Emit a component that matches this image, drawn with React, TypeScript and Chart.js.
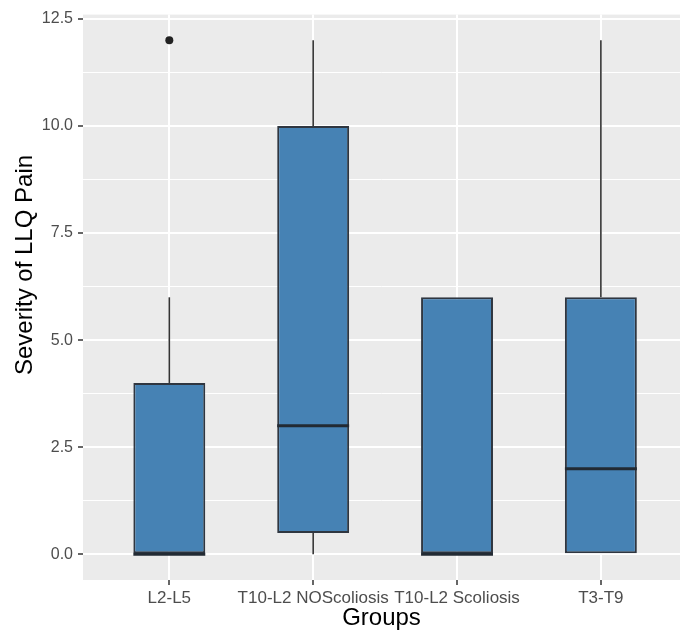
import React, { useEffect, useRef } from "react";
import { Chart, registerables } from "chart.js";

Chart.register(...registerables);

// ---- data ----
const categories = ["L2-L5", "T10-L2 NOScoliosis", "T10-L2 Scoliosis", "T3-T9"];
const whiskerLow = [0, 0, 0, 0];
const q1 = [0, 0.5, 0, 0];
const median = [0, 3, 0, 2];
const q3 = [4, 10, 6, 6];
const whiskerHigh = [6, 12, 6, 12];
const outlierGroup = ["L2-L5"];
const outlierValue = [12];
const yMajorTicks = [0, 2.5, 5, 7.5, 10, 12.5];
const yMinorTicks = [1.25, 3.75, 6.25, 8.75, 11.25];

const FONT = '"Liberation Sans", Arial, Helvetica, sans-serif';

const isMajor = (v: number) => yMajorTicks.some((m) => Math.abs(m - v) < 1e-9);

const boxPlugin = {
  id: "boxExtras",
  beforeDraw(chart: any) {
    const { ctx, chartArea } = chart;
    ctx.save();
    ctx.fillStyle = "#ffffff";
    ctx.fillRect(0, 0, chart.width, chart.height);
    ctx.fillStyle = "#EBEBEB";
    ctx.fillRect(chartArea.left, chartArea.top, chartArea.right - chartArea.left, chartArea.bottom - chartArea.top);
    ctx.restore();
  },
  beforeDatasetsDraw(chart: any) {
    const { ctx } = chart;
    const xs = chart.scales.x;
    const ys = chart.scales.y;
    ctx.save();
    ctx.strokeStyle = "#333333";
    ctx.lineWidth = 1.6;
    categories.forEach((_, i) => {
      const x = xs.getPixelForValue(i + 1);
      if (whiskerHigh[i] > q3[i]) {
        ctx.beginPath();
        ctx.moveTo(x, ys.getPixelForValue(q3[i]));
        ctx.lineTo(x, ys.getPixelForValue(whiskerHigh[i]));
        ctx.stroke();
      }
      if (whiskerLow[i] < q1[i]) {
        ctx.beginPath();
        ctx.moveTo(x, ys.getPixelForValue(q1[i]));
        ctx.lineTo(x, ys.getPixelForValue(whiskerLow[i]));
        ctx.stroke();
      }
    });
    ctx.restore();
  },
  afterDatasetsDraw(chart: any) {
    const { ctx } = chart;
    const ys = chart.scales.y;
    const meta = chart.getDatasetMeta(0);
    ctx.save();
    ctx.strokeStyle = "#222a33";
    ctx.lineWidth = 3;
    meta.data.forEach((bar: any, i: number) => {
      const half = bar.width / 2;
      const y = ys.getPixelForValue(median[i]);
      ctx.beginPath();
      ctx.moveTo(bar.x - half, y);
      ctx.lineTo(bar.x + half, y);
      ctx.stroke();
    });
    ctx.restore();
  },
  afterDraw(chart: any) {
    const { ctx } = chart;
    ctx.save();
    ctx.translate(25, 265);
    ctx.rotate(-Math.PI / 2);
    ctx.fillStyle = "#000000";
    ctx.font = `24px ${FONT}`;
    ctx.textAlign = "center";
    ctx.textBaseline = "middle";
    ctx.fillText("Severity of LLQ Pain", 0, 0);
    ctx.restore();
  },
};

export default function App() {
  const canvasRef = useRef<HTMLCanvasElement | null>(null);

  useEffect(() => {
    if (!canvasRef.current) return;
    const chart = new Chart(canvasRef.current, {
      type: "bar",
      data: {
        datasets: [
          {
            type: "bar",
            data: categories.map((_, i) => ({ x: i + 1, y: [q1[i], q3[i]] })) as any,
            backgroundColor: "#4682B4",
            borderColor: "#2f3640",
            borderWidth: 2,
            borderSkipped: false,
            barPercentage: 0.5,
            categoryPercentage: 1.0,
          } as any,
          {
            type: "scatter",
            data: outlierGroup.map((g, k) => ({ x: categories.indexOf(g) + 1, y: outlierValue[k] })),
            backgroundColor: "#222222",
            borderWidth: 0,
            pointRadius: 4,
          } as any,
        ],
      },
      options: {
        responsive: false,
        animation: false,
        layout: { padding: { top: 12, left: 0, right: 0, bottom: 0 } },
        plugins: { legend: { display: false }, tooltip: { enabled: false } },
        scales: {
          x: {
            type: "linear",
            min: 0.4,
            max: 4.55,
            offset: false,
            afterBuildTicks: (s: any) => {
              s.ticks = categories.map((_, i) => ({ value: i + 1 }));
            },
            afterFit: (s: any) => {
              s.height = 54;
            },
            border: { display: false },
            grid: { offset: false, color: "#ffffff", lineWidth: 2, tickColor: "#333333", tickLength: 5, tickWidth: 1.5 },
            ticks: {
              autoSkip: false,
              maxRotation: 0,
              color: "#4D4D4D",
              font: { family: FONT, size: 17 },
              padding: 3,
              callback: (_v: any, i: number) => categories[i],
            },
            title: {
              display: true,
              text: "Groups",
              color: "#000000",
              font: { family: FONT, size: 24 },
              padding: { top: 0, bottom: 1 },
            },
          },
          y: {
            type: "linear",
            min: -0.6,
            max: 12.6,
            afterBuildTicks: (s: any) => {
              s.ticks = [...yMajorTicks, ...yMinorTicks].sort((a, b) => a - b).map((v) => ({ value: v }));
            },
            afterFit: (s: any) => {
              s.width = 83;
            },
            border: { display: false },
            grid: {
              color: "#ffffff",
              lineWidth: (c: any) => (c.tick && isMajor(c.tick.value) ? 2 : 1),
              tickColor: (c: any) => (c.tick && isMajor(c.tick.value) ? "#333333" : "rgba(0,0,0,0)"),
              tickWidth: 1.5,
              tickLength: 5,
            },
            ticks: {
              autoSkip: false,
              color: "#4D4D4D",
              font: { family: FONT, size: 16 },
              padding: 5,
              callback: (v: any) => (isMajor(Number(v)) ? Number(v).toFixed(1) : ""),
            },
          },
        },
      } as any,
      plugins: [boxPlugin],
    });
    return () => chart.destroy();
  }, []);

  return (
    <div style={{ position: "fixed", left: 0, top: 0, width: 684, height: 634 }}>
      <canvas ref={canvasRef} width={684} height={634} style={{ display: "block" }} />
    </div>
  );
}
